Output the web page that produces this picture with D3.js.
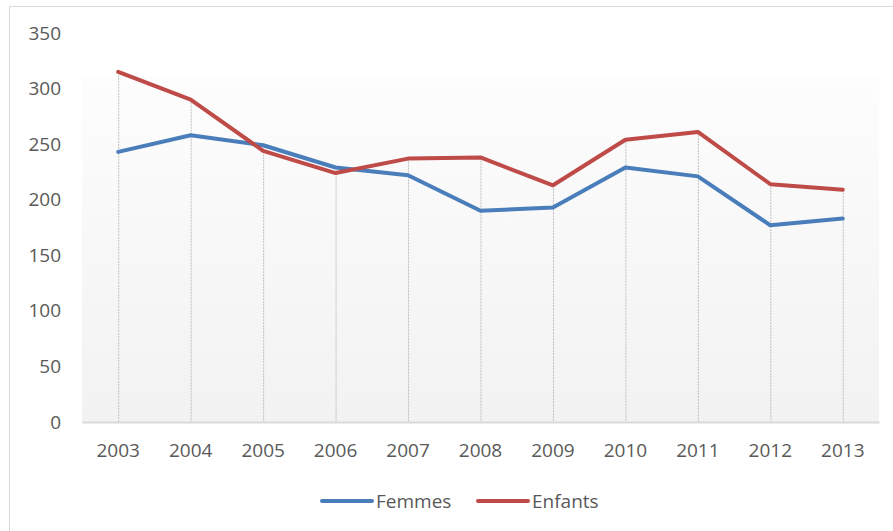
<!DOCTYPE html>
<meta charset="utf-8">
<style>
  body { margin: 0; background: #fff; }
  text { font-family: "Open Sans", sans-serif; fill: #595959; }
</style>
<body></body>
<script src="https://cdn.jsdelivr.net/npm/d3@7"></script>
<script>
  const years = ["2003", "2004", "2005", "2006", "2007", "2008", "2009", "2010", "2011", "2012", "2013"]
  const femmes = [243, 258, 249, 229, 222, 190, 193, 229, 221, 177, 183]
  const enfants = [315, 290, 244, 224, 237, 238, 213, 254, 261, 214, 209]
  const yTicks = [0, 50, 100, 150, 200, 250, 300, 350]

  const series = [
    { name: "Femmes", values: femmes, color: "#4a7ebb" },
    { name: "Enfants", values: enfants, color: "#be4b48" }
  ]

  const width = 893
  const height = 531
  const plot = { left: 82, right: 879, top: 33, bottom: 422 }
  const fontSize = 19

  const svg = d3.select("body").append("svg")
    .attr("width", width)
    .attr("height", height)

  // outer chart border
  svg.append("rect")
    .attr("x", 9.5).attr("y", 6.5)
    .attr("width", width)
    .attr("height", height)
    .attr("fill", "#fff")
    .attr("stroke", "#d9d9d9")

  const x = d3.scaleBand()
    .domain(years)
    .range([plot.left, plot.right])

  const y = d3.scaleLinear()
    .domain([0, 350])
    .range([plot.bottom, plot.top])

  // plot area gradient
  const grad = svg.append("defs").append("linearGradient")
    .attr("id", "bg")
    .attr("x1", 0).attr("y1", 0).attr("x2", 0).attr("y2", 1)
  grad.append("stop").attr("offset", 0).attr("stop-color", "#fdfdfd")
  grad.append("stop").attr("offset", 1).attr("stop-color", "#f2f2f2")

  svg.append("rect")
    .attr("x", plot.left)
    .attr("y", 76)
    .attr("width", plot.right - plot.left)
    .attr("height", plot.bottom - 76)
    .attr("fill", "url(#bg)")

  // drop lines
  svg.append("g")
    .selectAll("line")
    .data(years)
    .join("line")
    .attr("x1", d => x(d) + x.bandwidth() / 2 + 0.5)
    .attr("x2", d => x(d) + x.bandwidth() / 2 + 0.5)
    .attr("y1", (d, i) => y(Math.max(femmes[i], enfants[i])))
    .attr("y2", plot.bottom)
    .attr("stroke", "#bfbfbf")
    .attr("stroke-width", 1)
    .attr("stroke-dasharray", "2,1")

  // x axis
  const xAxis = svg.append("g")
    .attr("transform", `translate(0, ${plot.bottom})`)
    .call(d3.axisBottom(x).tickSize(0).tickPadding(0))
  xAxis.select(".domain").attr("stroke", "#d9d9d9").attr("stroke-width", 2)
  xAxis.selectAll("text")
    .attr("font-size", fontSize)
    .attr("dy", 0)
    .attr("y", 35)
    .style("fill", "#595959")
    .style("font-family", "'Open Sans', sans-serif")

  // y axis
  const yAxis = svg.append("g")
    .attr("transform", "translate(61, 0)")
    .call(d3.axisLeft(y).tickValues(yTicks).tickSize(0).tickPadding(0))
  yAxis.select(".domain").remove()
  yAxis.selectAll("text")
    .attr("font-size", fontSize)
    .style("fill", "#595959")
    .style("font-family", "'Open Sans', sans-serif")

  const line = d3.line()
    .x((d, i) => x(years[i]) + x.bandwidth() / 2)
    .y(d => y(d))

  svg.append("g")
    .selectAll("path")
    .data(series)
    .join("path")
    .attr("d", d => line(d.values))
    .attr("fill", "none")
    .attr("stroke", d => d.color)
    .attr("stroke-width", 4)
    .attr("stroke-linejoin", "round")
    .attr("stroke-linecap", "round")

  // legend
  const legendX = [322, 478]
  const legend = svg.append("g")
    .selectAll("g")
    .data(series)
    .join("g")
    .attr("transform", (d, i) => `translate(${legendX[i]}, 501)`)
  legend.append("line")
    .attr("x1", 0).attr("x2", 50)
    .attr("stroke", d => d.color)
    .attr("stroke-width", 4)
    .attr("stroke-linecap", "round")
  legend.append("text")
    .attr("x", 54)
    .attr("dy", "0.35em")
    .attr("font-size", fontSize)
    .text(d => d.name)
</script>
